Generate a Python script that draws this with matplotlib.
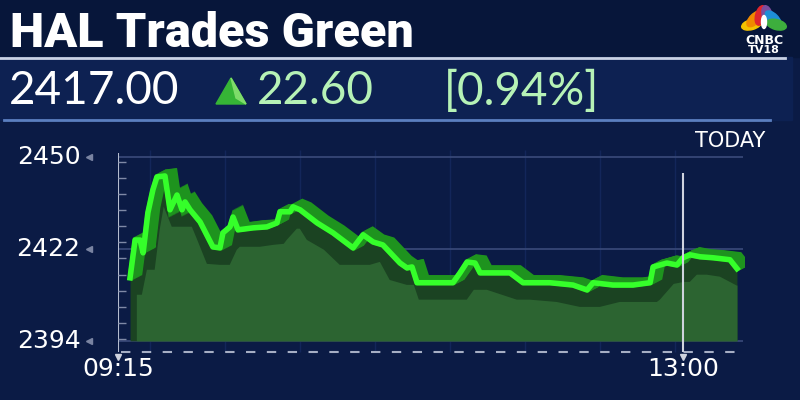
import matplotlib.pyplot as plt
from matplotlib.patches import Rectangle, Ellipse, Polygon
import numpy as np

# minutes after 09:15 and traded price
mins = [4.8, 6.8, 8.8, 10.0, 11.9, 13.9, 15.5, 18.7, 20.7, 23.5, 25.5, 26.7, 28.7,
        32.7, 37.8, 40.6, 41.8, 44.6, 45.8, 47.8, 53.8, 59.3, 63.3, 64.5, 68.5,
        69.7, 72.5, 79.3, 85.6, 93.6, 97.6, 101.6, 105.5, 112.3, 115.1, 117.1,
        119.1, 125.4, 133.4, 136.2, 139.0, 142.2, 144.2, 156.1, 161.3, 172.0,
        181.2, 186.8, 189.2, 197.1, 205.1, 211.9, 213.1, 218.6, 222.6, 225.0,
        227.8, 231.8, 237.0, 243.7, 246.5]
price = [2413.2, 2424.7, 2424.7, 2420.8, 2433.0, 2440.0, 2443.9, 2444.2, 2433.9,
         2438.4, 2433.9, 2436.3, 2433.9, 2430.2, 2422.6, 2422.3, 2426.9, 2428.7,
         2431.7, 2427.8, 2428.4, 2428.7, 2429.9, 2433.3, 2433.3, 2434.8, 2433.9,
         2429.9, 2426.9, 2422.3, 2426.3, 2424.1, 2423.2, 2417.7, 2416.2, 2416.5,
         2411.7, 2411.7, 2411.7, 2414.7, 2418.0, 2417.7, 2414.7, 2414.7, 2411.7,
         2411.7, 2411.0, 2409.5, 2411.7, 2411.0, 2411.0, 2411.7, 2416.5, 2417.7,
         2417.1, 2419.3, 2420.2, 2419.6, 2419.3, 2418.7, 2416.0]

y_ticks = [2394, 2422, 2450]
x_ticks = [0, 225]
x_labels = ['09:15', '13:00']

title = 'HAL Trades Green'
last_price = '2417.00'
change = '22.60'
change_pct = '[0.94%]'

t = np.array(mins)
p = np.array(price)

fig = plt.figure(figsize=(8, 4), dpi=100)
fig.patch.set_facecolor('#0b1b45')

# background panels, pixel coordinates
bg = fig.add_axes([0, 0, 1, 1])
bg.set_xlim(0, 800)
bg.set_ylim(400, 0)
bg.axis('off')
bg.add_patch(Rectangle((0, 0), 800, 400, color='#0b1b45'))
bg.add_patch(Rectangle((0, 0), 800, 57, color='#07163a'))
bg.add_patch(Rectangle((0, 57), 792, 63, color='#0d2152'))
bg.plot([0, 785], [57.5, 57.5], color='#c9d2e4', lw=2)
bg.plot([4, 770], [120, 120], color='#5b7fc0', lw=2)

bg.text(10, 34, title, color='white', fontsize=35, fontweight='black',
        family='Roboto', va='center', ha='left')
bg.text(9, 91, last_price, color='white', fontsize=33, family='Lato',
        va='center', ha='left')
bg.add_patch(Polygon([[216, 104], [246, 104], [231, 78]], closed=True,
                     color='#36b536'))
bg.add_patch(Polygon([[231, 78], [246, 104], [236, 98]], closed=True,
                     color='#7fdc6a'))
bg.text(257, 91, change, color='#b6f2b6', fontsize=33, family='Lato',
        va='center', ha='left')
bg.text(444, 91, change_pct, color='#b6f2b6', fontsize=33, family='Lato',
        va='center', ha='left')

# CNBC peacock
feathers = ['#f4c300', '#f08a00', '#e0262d', '#7b4d9e', '#1e8fd6', '#3dae3d']
cx, cy = 764, 28
for i, c in enumerate(feathers):
    ang = np.deg2rad(165 - i * 30)
    ex, ey = cx + 13 * np.cos(ang), cy - 13 * np.sin(ang)
    bg.add_patch(Ellipse((ex, ey), 20, 10, angle=np.rad2deg(ang), color=c))
bg.add_patch(Ellipse((cx, cy - 6), 5, 13, color='white'))
bg.text(764, 40, 'CNBC', color='white', fontsize=9, fontweight='black',
        ha='center', va='center')
bg.text(764, 50, 'TV18', color='white', fontsize=8, fontweight='bold',
        ha='center', va='center')

bg.text(730, 141, 'TODAY', color='white', fontsize=15, ha='center', va='center')

# chart
ax = fig.add_axes([118 / 800, 44 / 400, 627 / 800, 206 / 400])
ax.set_xlim(0, 249.7)
ax.set_ylim(2389.4, 2452.1)
ax.patch.set_alpha(0)
ax.axis('off')

for xv in [12.7, 42.6, 72.5, 102.4, 132.3, 162.2, 192.1, 222.0]:
    ax.vlines(xv, 2390.7, 2452, color='#13265a', lw=1, zorder=0)
ax.hlines(y_ticks, 0, 249, color='#3a4b7a', lw=1.2, zorder=1)

base = y_ticks[0]
ax.fill_between(t, base, p, color='#1b4322', lw=0, zorder=2)
low = np.array([p[max(i - 1, 0):i + 2].min() for i in range(len(p))]) - 5
tf = np.minimum(t + 2.5, t[-1])
ax.fill_between(tf, base, low, color='#2c6431', lw=0, zorder=3)

for d in np.linspace(0, 4, 14):
    ax.plot(t + d, p + d * 0.4, color='#1e931e', lw=3.5, zorder=4,
            solid_joinstyle='miter')
ax.plot(t, p, color='#35ff2a', lw=4, zorder=5, solid_joinstyle='round')

# axes decoration
ax.vlines(0, 2390.5, 2451.2, color='#b4bccf', lw=1.5, zorder=6)
ax.hlines(np.linspace(2394.6, 2448.5, 12), 0, 3.2, color='#7f89a6', lw=1, zorder=6)
ax.hlines(2390.7, 1, 249, color='#a6aec4', lw=1.5, linestyles=(0, (4.5, 5.5)),
          zorder=6)
ax.vlines(225, 2390.7, 2445.1, color='#cfd3de', lw=1.5, zorder=6)

ytr = ax.get_yaxis_transform()
for v in y_ticks:
    ax.text(-0.06, v, str(v), transform=ytr, color='white', fontsize=18,
            ha='right', va='center', clip_on=False)
    ax.plot(-0.047, v, marker='<', ms=4, color='#7a84a2', transform=ytr,
            clip_on=False)

xtr = ax.get_xaxis_transform()
for xv, lab in zip(x_ticks, x_labels):
    ax.text(xv, -0.065, lab, transform=xtr, color='white', fontsize=18,
            ha='center', va='center', clip_on=False)
    ax.plot(xv, -0.005, marker='v', ms=4, color='#cfd3de', transform=xtr,
            clip_on=False)

fig.savefig('out.png', dpi=100, facecolor=fig.get_facecolor())
